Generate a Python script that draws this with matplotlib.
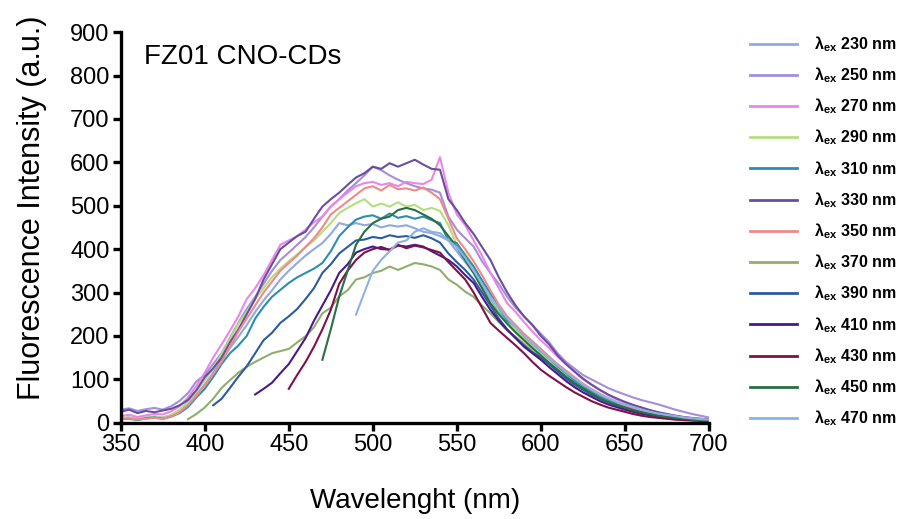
import numpy as np
import matplotlib
matplotlib.use("Agg")
import matplotlib.pyplot as plt

plt.rcParams['font.family'] = ['Liberation Sans', 'DejaVu Sans']
plt.rcParams['mathtext.fontset'] = 'custom'
plt.rcParams['mathtext.rm'] = 'Liberation Sans'
plt.rcParams['mathtext.bf'] = 'Liberation Sans:bold'
plt.rcParams['mathtext.it'] = 'Liberation Sans:italic'

# excitation wavelengths (nm) and emission spectra sampled every 5 nm
excitations = [230, 250, 270, 290, 310, 330, 350, 370, 390, 410, 430, 450, 470]
start_nm = [350, 350, 350, 350, 350, 350, 350, 390, 405, 430, 450, 470, 490]
colors = ['#8FAADC', '#A58FD8', '#E987E8', '#B4DE7E', '#2B8EB1', '#6A4E9E',
          '#EF8A88', '#8FAE6F', '#2C5C9E', '#4A1A8C', '#7E1248', '#2A6E45',
          '#8CB2E4']

ex230 = [10, 12, 9, 12, 14, 12, 17, 26, 42, 65,
         88, 115, 145, 172, 198, 225, 255, 282, 305, 330,
         350, 368, 385, 400, 414, 435, 460, 455, 460, 455,
         458, 450, 455, 452, 455, 448, 440, 437, 430, 420,
         395, 370, 345, 315, 285, 255, 230, 212, 195, 178,
         162, 146, 130, 114, 100, 87, 75, 64, 55, 47,
         40, 34, 28, 23, 19, 16, 14, 11, 9, 8, 6]
ex250 = [30, 33, 27, 31, 34, 30, 38, 50, 68, 95,
         110, 135, 160, 195, 230, 262, 290, 320, 350, 375,
         392, 410, 428, 450, 475, 498, 515, 535, 552, 570,
         590, 582, 570, 560, 552, 545, 540, 537, 530, 475,
         445, 425, 406, 372, 345, 320, 290, 265, 245, 225,
         205, 185, 160, 140, 125, 110, 100, 90, 80, 72,
         65, 58, 52, 47, 42, 36, 30, 25, 20, 16, 12]
ex270 = [15, 18, 13, 17, 20, 19, 26, 38, 58, 85,
         115, 150, 180, 212, 245, 285, 310, 340, 375, 410,
         420, 430, 445, 462, 475, 498, 515, 530, 545, 552,
         555, 548, 552, 545, 555, 552, 550, 560, 612, 530,
         480, 455, 420, 385, 345, 310, 275, 255, 232, 210,
         190, 172, 152, 135, 118, 100, 88, 75, 64, 54,
         46, 39, 33, 27, 23, 20, 16, 13, 10, 9, 8]
ex290 = [10, 12, 8, 11, 14, 11, 18, 30, 48, 72,
         98, 125, 158, 192, 228, 255, 285, 310, 335, 355,
         372, 388, 405, 420, 440, 460, 483, 495, 506, 515,
         498, 505, 498, 508, 498, 502, 490, 495, 488, 455,
         410, 390, 360, 325, 290, 260, 235, 215, 195, 178,
         160, 145, 128, 112, 98, 85, 73, 62, 53, 45,
         38, 32, 27, 22, 18, 15, 13, 11, 8, 7, 5]
ex310 = [8, 9, 6, 10, 12, 9, 14, 22, 36, 58,
         78, 105, 135, 160, 178, 200, 240, 267, 290, 306,
         322, 335, 345, 355, 368, 395, 430, 450, 468, 475,
         478, 470, 482, 472, 476, 470, 475, 467, 460, 420,
         414, 385, 360, 328, 298, 265, 235, 222, 200, 182,
         165, 148, 130, 114, 98, 86, 73, 62, 53, 45,
         38, 32, 27, 22, 18, 15, 13, 10, 8, 7, 5]
ex330 = [25, 30, 22, 27, 24, 28, 32, 40, 52, 75,
         105, 125, 150, 185, 215, 250, 285, 330, 365, 400,
         415, 430, 440, 470, 498, 515, 530, 548, 565, 575,
         590, 585, 598, 590, 598, 606, 595, 585, 583, 515,
         490, 460, 435, 405, 375, 335, 300, 270, 245, 225,
         200, 180, 155, 135, 118, 102, 88, 76, 65, 56,
         48, 41, 35, 29, 24, 20, 16, 13, 11, 9, 7]
ex350 = [8, 10, 7, 9, 11, 9, 14, 24, 40, 62,
         85, 112, 140, 175, 210, 240, 270, 300, 325, 350,
         368, 385, 405, 425, 450, 480, 495, 510, 525, 540,
         545, 535, 548, 538, 540, 535, 542, 530, 515, 470,
         425, 400, 372, 340, 305, 272, 245, 225, 205, 188,
         170, 152, 135, 120, 105, 90, 78, 67, 57, 48,
         40, 34, 28, 24, 20, 17, 14, 12, 9, 8, 6]
ex370 = [8, 20,
         35, 55, 80, 98, 115, 129, 140, 150, 160, 165,
         170, 185, 199, 220, 252, 265, 291, 305, 330, 335,
         345, 350, 360, 352, 360, 368, 365, 360, 352, 330,
         318, 302, 290, 270, 252, 232, 212, 198, 182, 165,
         150, 135, 120, 105, 90, 78, 66, 56, 47, 40,
         34, 28, 23, 19, 15, 12, 10, 8, 7, 6, 4]
ex390 = [40, 55, 80, 106, 130, 160, 190, 207, 230,
         245, 262, 285, 310, 345, 365, 390, 405, 420, 422,
         428, 425, 432, 428, 430, 426, 432, 425, 415, 390,
         370, 352, 330, 300, 270, 240, 215, 195, 178, 162,
         150, 135, 118, 102, 88, 76, 65, 55, 47, 40,
         34, 28, 23, 19, 16, 13, 11, 9, 7, 6, 5]
ex410 = [65, 78, 92, 114,
         135, 165, 195, 235, 270, 305, 345, 365, 392, 400,
         406, 400, 399, 408, 406, 410, 406, 395, 385, 375,
         360, 340, 322, 290, 260, 235, 214, 195, 175, 160,
         145, 128, 112, 96, 82, 70, 60, 50, 42, 36,
         30, 25, 20, 17, 14, 11, 9, 7, 6, 5, 4]
ex430 = [78, 110, 140, 175, 215, 260, 320, 350, 375, 392,
         400, 405, 398, 410, 402, 408, 404, 398, 392, 370,
         350, 330, 300, 265, 230, 212, 195, 178, 160, 140,
         122, 108, 95, 82, 70, 60, 50, 42, 35, 30,
         25, 20, 16, 13, 11, 9, 7, 6, 5, 4, 3]
ex450 = [145, 215, 290, 350, 410, 440,
         460, 470, 475, 490, 495, 490, 480, 470, 455, 430,
         405, 375, 345, 310, 275, 250, 228, 208, 190, 172,
         155, 138, 122, 106, 92, 80, 68, 57, 48, 41,
         35, 29, 24, 20, 16, 13, 11, 9, 7, 6, 4]
ex470 = [249, 300,
         350, 375, 395, 415, 420, 440, 448, 440, 437, 420,
         405, 380, 350, 320, 290, 265, 240, 220, 200, 182,
         165, 148, 132, 116, 102, 88, 76, 65, 56, 48,
         42, 36, 30, 25, 21, 18, 15, 12, 10, 8, 7]

spectra = [ex230, ex250, ex270, ex290, ex310, ex330, ex350,
           ex370, ex390, ex410, ex430, ex450, ex470]

fig = plt.figure(figsize=(9.03, 5.19), dpi=100)
ax = fig.add_axes([0.1337, 0.1856, 0.6513, 0.7524])

for ex, x0, col, y in zip(excitations, start_nm, colors, spectra):
    wl = x0 + 5 * np.arange(len(y))
    ax.plot(wl, y, color=col, lw=1.5,
            label=r'λ$_{\mathbf{ex}}$ ' + f'{ex} nm')

ax.set_xlim(350, 700)
ax.set_ylim(0, 900)
ax.set_xticks(np.arange(350, 701, 50))
ax.set_yticks(np.arange(0, 901, 100))
for s in ['top', 'right']:
    ax.spines[s].set_visible(False)
for s in ['left', 'bottom']:
    ax.spines[s].set_linewidth(2.4)
ax.tick_params(width=2.4, length=6, labelsize=17, pad=2)
ax.set_xlabel('Wavelenght (nm)', fontsize=20, labelpad=23)
ax.set_ylabel('Fluorescence Intensity (a.u.)', fontsize=22)
ax.yaxis.set_label_coords(-0.126, 0.55)
ax.text(0.04, 0.97, 'FZ01 CNO-CDs', transform=ax.transAxes,
        fontsize=20, va='top', ha='left')

leg = fig.legend(loc='upper left', bbox_to_anchor=(0.815, 0.962),
                 frameon=False, fontsize=11.5, handlelength=2.9,
                 handletextpad=1.1, labelspacing=0.72)
for t in leg.get_texts():
    t.set_fontweight('bold')
for h in leg.get_lines():
    h.set_linewidth(2)

fig.savefig('out.png', dpi=100)
